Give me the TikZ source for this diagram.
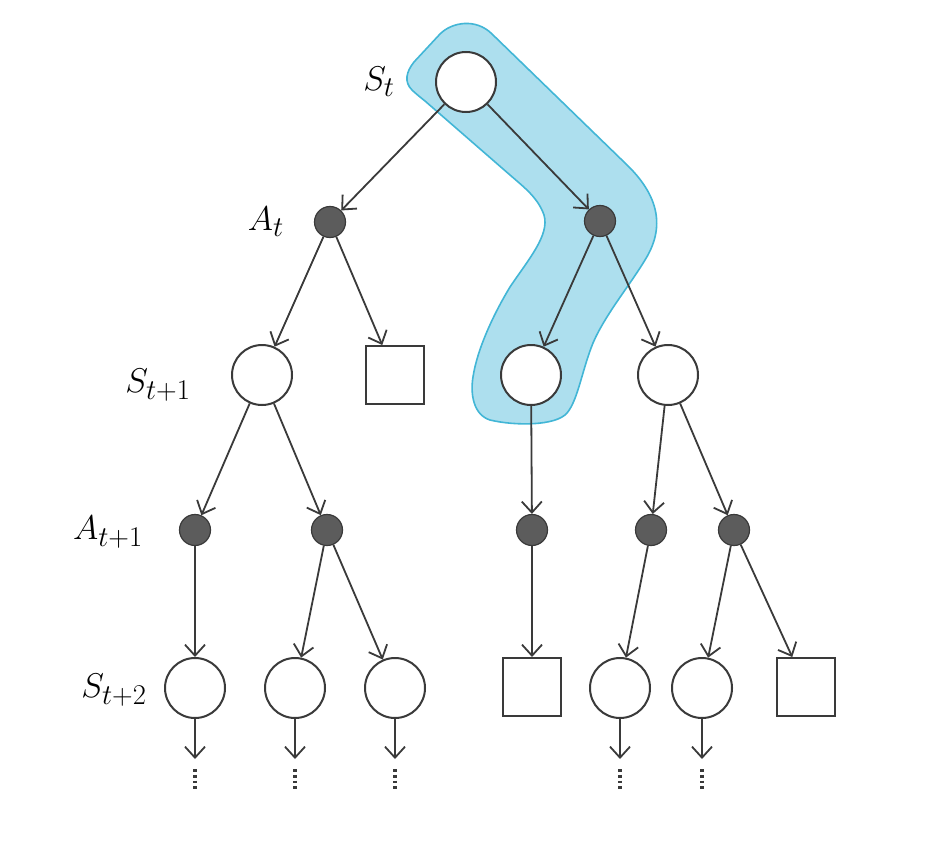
\documentclass[tikz,border=0pt]{standalone}
\usetikzlibrary{arrows.meta}
\definecolor{edgecol}{HTML}{3A3A3A}
\definecolor{dotcol}{HTML}{5C5C5C}
\definecolor{bandfill}{HTML}{ADDFEE}
\definecolor{bandline}{HTML}{42B6D6}
\newcommand{\biglab}[1]{\scalebox{1.38}{\Huge $#1$}}
\begin{document}
\begin{tikzpicture}[x=1pt,y=-1pt,
  state/.style={circle,draw=edgecol,fill=white,line width=2pt,minimum size=60pt,inner sep=0pt},
  term/.style={rectangle,draw=edgecol,fill=white,line width=2pt,minimum size=58pt,inner sep=0pt},
  act/.style={circle,draw=edgecol,fill=dotcol,line width=1.2pt,minimum size=31pt,inner sep=0pt},
  lab/.style={inner sep=0pt},
  arr/.style={draw=edgecol,line width=1.8pt,-{Straight Barb[length=11pt,width=20pt,line width=1.8pt]}},
  more/.style={draw=edgecol,line width=3.4pt,dash pattern=on 2.8pt off 3pt}]
\useasboundingbox (0,0) rectangle (944,840);
\fill[white] (0,0) rectangle (944,840);
% highlight band
\draw[bandline,line width=1.6pt,fill=bandfill]
 (412,90) .. controls (404,82) and (406,72) .. (414,62) -- (440,34)
 .. controls (452,22) and (476,18) .. (492,34) -- (625,163)
 .. controls (660,196) and (665,228) .. (645,260)
 .. controls (630,285) and (605,315) .. (593,343)
 .. controls (582,370) and (578,400) .. (567,413)
 .. controls (556,426) and (515,426) .. (490,420)
 .. controls (474,415) and (470,395) .. (473,377)
 .. controls (477,350) and (493,315) .. (510,287)
 .. controls (528,260) and (550,235) .. (544,215)
 .. controls (538,198) and (525,188) .. (510,175) -- (425,101)
 .. controls (420,97) and (415,93) .. (412,90) -- cycle;
% nodes
\node[state] (r) at (466,82) {};
\node[act] (at1) at (330,222) {};
\node[act] (at2) at (600,221) {};
\node[state] (s1a) at (262,375) {};
\node[term] (s1b) at (395,375) {};
\node[state] (s1c) at (531,375) {};
\node[state] (s1d) at (668,375) {};
\node[act] (a1) at (195,530) {};
\node[act] (a2) at (327,530) {};
\node[act] (a3) at (532,530) {};
\node[act] (a4) at (651,530) {};
\node[act] (a5) at (734,530) {};
\node[state] (s2a) at (195,688) {};
\node[state] (s2b) at (295,688) {};
\node[state] (s2c) at (395,688) {};
\node[term] (s2d) at (532,687) {};
\node[state] (s2e) at (620,688) {};
\node[state] (s2f) at (702,688) {};
\node[term] (s2g) at (806,687) {};
% labels
\node[lab] (l1) at (379,82) {\biglab{S_t}};
\node[lab] (l2) at (266,222) {\biglab{A_t}};
\node[lab] (l3) at (158,385) {\biglab{S_{t+1}}};
\node[lab] (l4) at (108,532) {\biglab{A_{t+1}}};
\node[lab] (l5) at (114,690) {\biglab{S_{t+2}}};
% edges
\draw[arr] (r) -- (at1);
\draw[arr] (r) -- (at2);
\draw[arr] (at1) -- (s1a);
\draw[arr] (at1) -- (s1b);
\draw[arr] (at2) -- (s1c);
\draw[arr] (at2) -- (s1d);
\draw[arr] (s1a) -- (a1);
\draw[arr] (s1a) -- (a2);
\draw[arr] (s1c) -- (a3);
\draw[arr] (s1d) -- (a4);
\draw[arr] (s1d) -- (a5);
\draw[arr] (a1) -- (s2a);
\draw[arr] (a2) -- (s2b);
\draw[arr] (a2) -- (s2c);
\draw[arr] (a3) -- (s2d);
\draw[arr] (a4) -- (s2e);
\draw[arr] (a5) -- (s2f);
\draw[arr] (a5) -- (s2g);
% continuations
\foreach \n/\x in {s2a/195,s2b/295,s2c/395,s2e/620,s2f/702}{
  \coordinate (\n e) at (\x,759);
  \coordinate (\n d1) at (\x,769);
  \coordinate (\n d2) at (\x,792);
  \draw[arr] (\n) -- (\n e);
  \draw[more] (\n d1) -- (\n d2);
}
\end{tikzpicture}
\end{document}
